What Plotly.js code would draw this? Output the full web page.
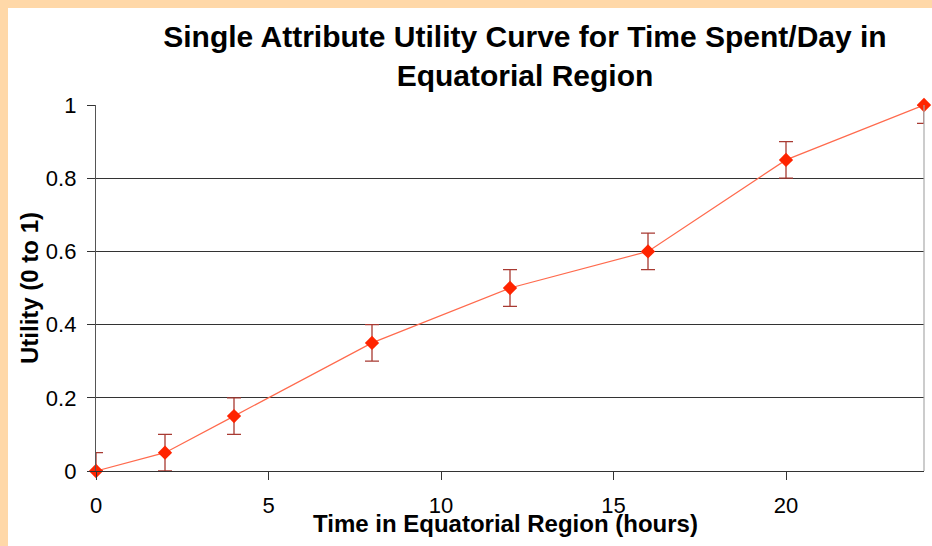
<!DOCTYPE html>
<html>
<head>
<meta charset="utf-8">
<script src="https://cdn.plot.ly/plotly-3.0.1.min.js"></script>
<style>
  html, body { margin: 0; padding: 0; background: #FFD8A8; width: 932px; height: 546px; overflow: hidden; }
  #chart { position: absolute; left: 8px; top: 8px; width: 924px; height: 538px; background: #fff; }
</style>
</head>
<body>
<div id="chart"></div>
<script>
const hours = [0, 2, 4, 8, 12, 16, 20, 24];
const utility = [0, 0.05, 0.15, 0.35, 0.5, 0.6, 0.85, 1];
const errUp = [0.05, 0.05, 0.05, 0.05, 0.05, 0.05, 0.05, 0];
const errDown = [0, 0.05, 0.05, 0.05, 0.05, 0.05, 0.05, 0.05];
const yTicks = [0, 0.2, 0.4, 0.6, 0.8, 1];
const yTickText = ['0', '0.2', '0.4', '0.6', '0.8', '1'];
const xTicks = [0, 5, 10, 15, 20];
const titleText = 'Single Attribute Utility Curve for Time Spent/Day in<br>Equatorial Region';
const xTitle = 'Time in Equatorial Region (hours)';
const yTitle = 'Utility (0 to 1)';

const font = 'Liberation Sans, Arial, sans-serif';

const trace = {
  x: hours,
  y: utility,
  type: 'scatter',
  mode: 'lines+markers',
  cliponaxis: false,
  line: { color: '#FF6A4D', width: 1.2 },
  marker: { symbol: 'diamond', size: 11, color: '#FF2400' },
  error_y: {
    type: 'data',
    symmetric: false,
    array: errUp,
    arrayminus: errDown,
    color: '#A83A32',
    thickness: 1.3,
    width: 7
  },
  hoverinfo: 'x+y'
};

const layout = {
  width: 924,
  height: 538,
  paper_bgcolor: '#ffffff',
  plot_bgcolor: '#ffffff',
  margin: { l: 88, r: 8, t: 97, b: 75 },
  showlegend: false,
  font: { family: font, color: '#000' },
  title: {
    text: titleText,
    font: { family: font, size: 30, color: '#000', weight: 'bold' },
    xref: 'container', x: 0.5595, xanchor: 'center',
    yref: 'container', y: 0.927, yanchor: 'middle'
  },
  xaxis: {
    range: [0, 24],
    tickvals: xTicks,
    ticktext: xTicks.map(String),
    ticks: 'outside', ticklen: 8, tickcolor: '#333', tickwidth: 1,
    tickfont: { family: font, size: 22, color: '#000' },
    ticklabelstandoff: 6,
    showgrid: false, zeroline: false,
    showline: true, linecolor: '#333', linewidth: 1.2,
    automargin: false,
    fixedrange: true
  },
  yaxis: {
    range: [0, 1],
    tickvals: yTicks,
    ticktext: yTickText,
    ticks: 'outside', ticklen: 8, tickcolor: '#333', tickwidth: 1,
    tickfont: { family: font, size: 22, color: '#000' },
    ticklabelstandoff: 6,
    showgrid: true, gridcolor: '#333', gridwidth: 1,
    zeroline: false,
    showline: true, linecolor: '#555', linewidth: 1.2,
    title: { text: yTitle, font: { family: font, size: 24, color: '#000', weight: 'bold' }, standoff: 0 },
    automargin: false,
    fixedrange: true
  },
  annotations: [
    {
      text: xTitle, showarrow: false,
      xref: 'paper', x: 0.494, xanchor: 'center',
      yref: 'paper', y: 0, yanchor: 'middle', yshift: -52,
      font: { family: font, size: 24, color: '#000', weight: 'bold' }
    }
  ],
  shapes: [
    { type: 'line', xref: 'paper', yref: 'paper', x0: 1, x1: 1, y0: 0, y1: 1, line: { color: '#AAAAAA', width: 1.2 } }
  ]
};

Plotly.newPlot('chart', [trace], layout, { displayModeBar: false, staticPlot: true });
</script>
</body>
</html>
